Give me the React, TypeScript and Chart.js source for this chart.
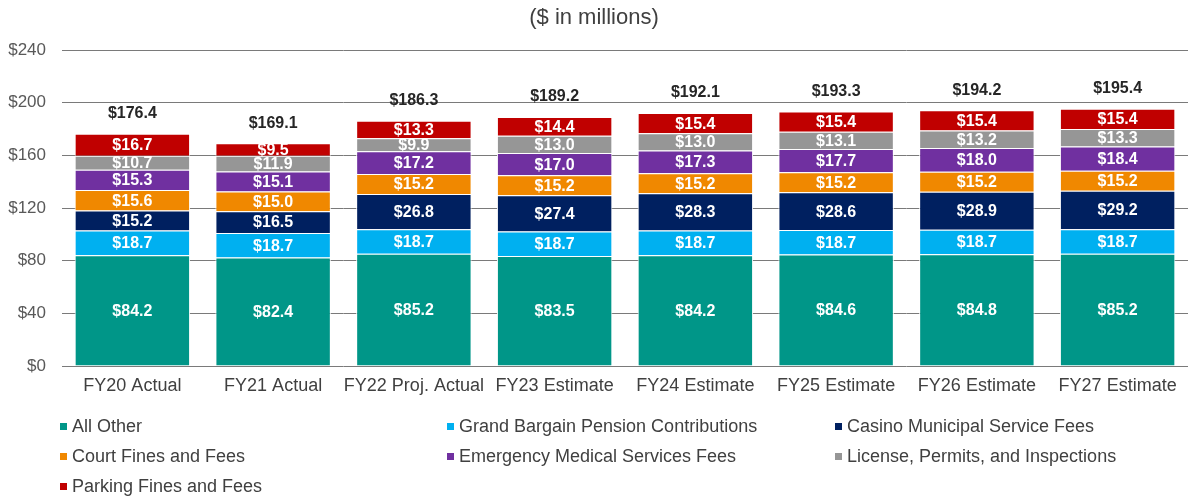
import React, { useEffect, useRef } from 'react';
import { Chart, registerables } from 'chart.js';

Chart.register(...registerables);

const categories = ['FY20 Actual', 'FY21 Actual', 'FY22 Proj. Actual', 'FY23 Estimate', 'FY24 Estimate', 'FY25 Estimate', 'FY26 Estimate', 'FY27 Estimate'];

const allOther = [84.2, 82.4, 85.2, 83.5, 84.2, 84.6, 84.8, 85.2];
const grandBargain = [18.7, 18.7, 18.7, 18.7, 18.7, 18.7, 18.7, 18.7];
const casinoFees = [15.2, 16.5, 26.8, 27.4, 28.3, 28.6, 28.9, 29.2];
const courtFines = [15.6, 15.0, 15.2, 15.2, 15.2, 15.2, 15.2, 15.2];
const emsFees = [15.3, 15.1, 17.2, 17.0, 17.3, 17.7, 18.0, 18.4];
const licensePermits = [10.7, 11.9, 9.9, 13.0, 13.0, 13.1, 13.2, 13.3];
const parkingFines = [16.7, 9.5, 13.3, 14.4, 15.4, 15.4, 15.4, 15.4];
const totals = [176.4, 169.1, 186.3, 189.2, 192.1, 193.3, 194.2, 195.4];

const yTicks = [0, 40, 80, 120, 160, 200, 240];

const seriesNames = [
  'All Other',
  'Grand Bargain Pension Contributions',
  'Casino Municipal Service Fees',
  'Court Fines and Fees',
  'Emergency Medical Services Fees',
  'License, Permits, and Inspections',
  'Parking Fines and Fees',
];
const seriesColors = ['#009688', '#00B0F0', '#002060', '#F08800', '#7030A0', '#969696', '#C00000'];
const seriesData = [allOther, grandBargain, casinoFees, courtFines, emsFees, licensePermits, parkingFines];

const FONT = '"Liberation Sans", Arial, sans-serif';

const labelPlugin = {
  id: 'barLabels',
  afterDatasetsDraw(chart: any) {
    const ctx = chart.ctx;
    ctx.save();
    ctx.font = `bold 16px ${FONT}`;
    ctx.textAlign = 'center';
    ctx.textBaseline = 'middle';
    ctx.fillStyle = '#FFFFFF';
    chart.data.datasets.forEach((ds: any, i: number) => {
      const meta = chart.getDatasetMeta(i);
      meta.data.forEach((bar: any, j: number) => {
        const v = ds.data[j];
        const y = (bar.y + bar.base) / 2;
        ctx.fillText('$' + v.toFixed(1), bar.x, y + 1);
      });
    });
    const last = chart.getDatasetMeta(chart.data.datasets.length - 1);
    ctx.fillStyle = '#262626';
    ctx.font = `bold 16px ${FONT}`;
    last.data.forEach((bar: any, j: number) => {
      ctx.fillText('$' + totals[j].toFixed(1), bar.x, bar.y - 20);
    });
    ctx.restore();
  },
};

export default function App() {
  const canvasRef = useRef<HTMLCanvasElement | null>(null);

  useEffect(() => {
    document.body.style.margin = '0';
    const canvas = canvasRef.current;
    if (!canvas) return;
    const chart = new Chart(canvas, {
      type: 'bar',
      data: {
        labels: categories,
        datasets: seriesData.map((d, i) => ({
          label: seriesNames[i],
          data: d,
          backgroundColor: seriesColors[i],
          borderColor: '#FFFFFF',
          borderWidth: 1,
          categoryPercentage: 1,
          barPercentage: 0.82,
        })),
      },
      options: {
        responsive: false,
        animation: false,
        layout: { padding: { top: 0, bottom: 96, left: 0, right: 0 } },
        plugins: {
          legend: { display: false },
          tooltip: { enabled: false },
          title: {
            display: true,
            text: '($ in millions)',
            color: '#404040',
            font: { family: FONT, size: 22, weight: 'normal' },
            padding: { top: 5, bottom: 18.6 },
          },
        },
        scales: {
          x: {
            stacked: true,
            grid: { display: false, drawTicks: false },
            border: { display: false },
            ticks: { color: '#404040', font: { family: FONT, size: 18 }, padding: 9, maxRotation: 0, autoSkip: false },
            afterFit: (s: any) => { s.height = 36; },
          },
          y: {
            stacked: true,
            min: 0,
            max: 240,
            afterBuildTicks: (s: any) => { s.ticks = yTicks.map((v) => ({ value: v })); },
            grid: { color: '#7A7A7A', lineWidth: 1, drawTicks: false },
            border: { display: false },
            ticks: {
              color: '#595959',
              font: { family: FONT, size: 17 },
              padding: 16,
              callback: (v: any) => '$' + v,
            },
            afterFit: (s: any) => { s.width = 62; },
          },
        },
      },
      plugins: [labelPlugin],
    } as any);
    return () => chart.destroy();
  }, []);

  const colLeft = [60, 447, 835];
  const rowTop = [415, 445, 475];

  return (
    <div style={{ position: 'relative', width: 1188, height: 498, fontFamily: FONT }}>
      <canvas ref={canvasRef} width={1188} height={498} style={{ display: 'block' }} />
      {seriesNames.map((name, i) => (
        <div
          key={name}
          style={{
            position: 'absolute',
            left: colLeft[i % 3],
            top: rowTop[Math.floor(i / 3)],
            height: 22,
            lineHeight: '22px',
            fontSize: 18,
            color: '#404040',
            display: 'flex',
            alignItems: 'center',
            whiteSpace: 'nowrap',
          }}
        >
          <span style={{ display: 'inline-block', width: 7, height: 7, background: seriesColors[i], marginRight: 5 }} />
          <span>{name}</span>
        </div>
      ))}
    </div>
  );
}
